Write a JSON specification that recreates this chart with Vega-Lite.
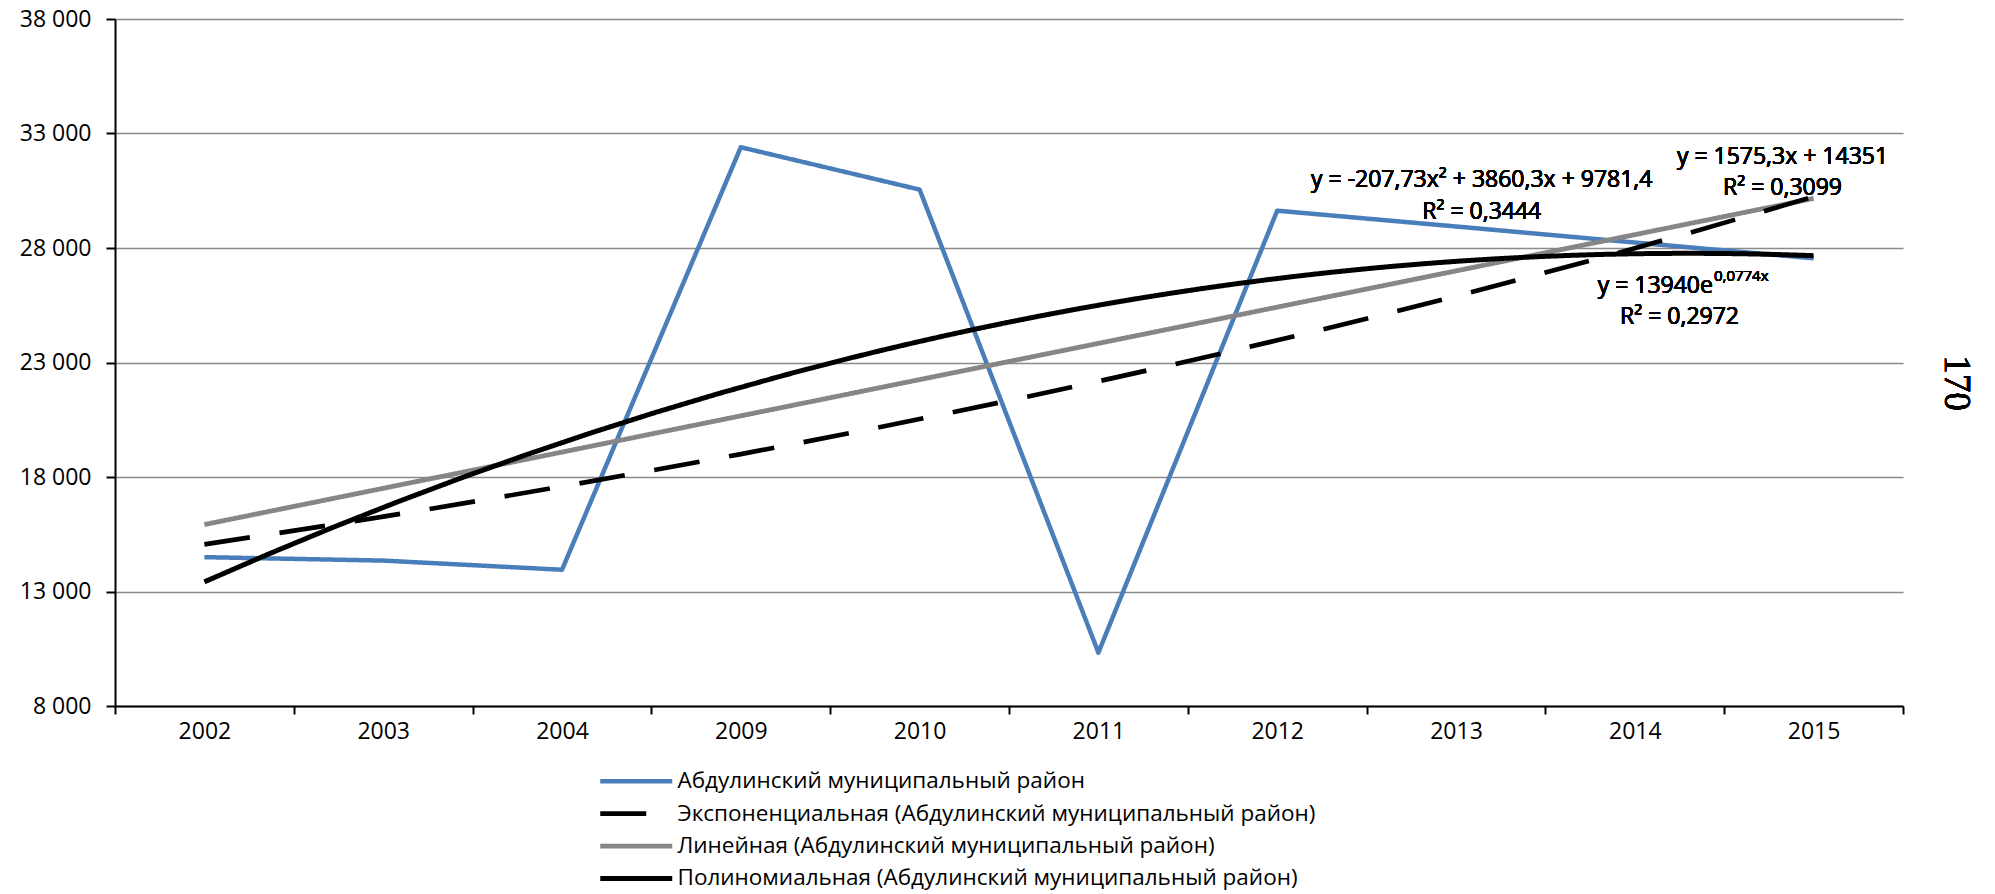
{
  "$schema": "https://vega.github.io/schema/vega-lite/v6.json",
  "width": 1788,
  "height": 687,
  "autosize": {"type": "none"},
  "padding": {"left": 115, "top": 19, "right": 92, "bottom": 188},
  "background": "white",
  "config": {
    "view": {"stroke": null}
  },
  "datasets": {
    "main": [
      {"year": "2002", "t": 1, "value": 14500},
      {"year": "2003", "t": 2, "value": 14350},
      {"year": "2004", "t": 3, "value": 13950},
      {"year": "2009", "t": 4, "value": 32400},
      {"year": "2010", "t": 5, "value": 30550},
      {"year": "2011", "t": 6, "value": 10330},
      {"year": "2012", "t": 7, "value": 29630},
      {"year": "2013", "t": 8, "value": 28940},
      {"year": "2014", "t": 9, "value": 28240},
      {"year": "2015", "t": 10, "value": 27550}
    ],
    "expTrend": [
      {"t": 1, "value": 15060},
      {"t": 2, "value": 16270},
      {"t": 3, "value": 17590},
      {"t": 4, "value": 19000},
      {"t": 5, "value": 20530},
      {"t": 6, "value": 22180},
      {"t": 7, "value": 23970},
      {"t": 8, "value": 25900},
      {"t": 9, "value": 27990},
      {"t": 10, "value": 30240}
    ]
  },
  "data": {"name": "main"},
  "layer": [
    {
      "mark": {"type": "line", "strokeJoin": "round"},
      "encoding": {
        "x": {
          "field": "t", "type": "quantitative",
          "scale": {"domain": [0.5, 10.5], "nice": false, "zero": false},
          "axis": {
            "values": [0.5, 1.5, 2.5, 3.5, 4.5, 5.5, 6.5, 7.5, 8.5, 9.5, 10.5],
            "labelExpr": "datum.value < 10 ? ['2002','2003','2004','2009','2010','2011','2012','2013','2014','2015'][floor(datum.value)] : ''",
            "labelOffset": 89.4,
            "labelFlush": false, "labelOverlap": false,
            "labelFont": "Open Sans", "labelFontSize": 23, "labelColor": "black", "labelPadding": 6,
            "tickSize": 8, "tickColor": "black", "tickWidth": 2,
            "domainColor": "black", "domainWidth": 2,
            "grid": false, "title": null
          }
        },
        "y": {
          "field": "value", "type": "quantitative",
          "scale": {"domain": [8000, 38000], "nice": false, "zero": false},
          "axis": {
            "values": [8000, 13000, 18000, 23000, 28000, 33000, 38000],
            "labelExpr": "replace(format(datum.value, ',d'), ',', ' ')",
            "labelFlush": false, "labelOverlap": false,
            "labelFont": "Open Sans", "labelFontSize": 23, "labelColor": "black", "labelPadding": 15,
            "tickSize": 9, "tickColor": "black", "tickWidth": 2,
            "domainColor": "black", "domainWidth": 2,
            "grid": true, "gridColor": "#8a8a8a", "gridWidth": 1.6,
            "title": null
          }
        },
        "color": {
          "datum": "Абдулинский муниципальный район", "type": "nominal",
          "scale": {
            "domain": [
              "Абдулинский муниципальный район",
              "Экспоненциальная (Абдулинский муниципальный район)",
              "Линейная (Абдулинский муниципальный район)",
              "Полиномиальная (Абдулинский муниципальный район)"
            ],
            "range": ["#4a7ebb", "#000000", "#868686", "#000000"]
          },
          "legend": {
            "orient": "none", "legendX": 479, "legendY": 751,
            "direction": "vertical", "title": null,
            "symbolType": "M-1,0H13.4", "symbolSize": 100,
            "labelFont": "Open Sans", "labelFontSize": 22.5, "labelColor": "black",
            "labelOffset": 61, "rowPadding": 9.4, "padding": 0, "labelLimit": 1000
          }
        },
        "strokeDash": {
          "datum": "Абдулинский муниципальный район", "type": "nominal",
          "scale": {
            "domain": [
              "Абдулинский муниципальный район",
              "Экспоненциальная (Абдулинский муниципальный район)",
              "Линейная (Абдулинский муниципальный район)",
              "Полиномиальная (Абдулинский муниципальный район)"
            ],
            "range": [[1, 0], [46, 30], [1, 0], [1, 0]]
          }
        },
        "strokeWidth": {
          "datum": "Абдулинский муниципальный район", "type": "nominal",
          "scale": {
            "domain": [
              "Абдулинский муниципальный район",
              "Экспоненциальная (Абдулинский муниципальный район)",
              "Линейная (Абдулинский муниципальный район)",
              "Полиномиальная (Абдулинский муниципальный район)"
            ],
            "range": [4.5, 5, 2.5, 5]
          }
        }
      }
    },
    {
      "transform": [{"regression": "value", "on": "t", "method": "linear"}],
      "mark": {"type": "line"},
      "encoding": {
        "x": {"field": "t", "type": "quantitative"},
        "y": {"field": "value", "type": "quantitative"},
        "color": {"datum": "Линейная (Абдулинский муниципальный район)", "type": "nominal"},
        "strokeDash": {"datum": "Линейная (Абдулинский муниципальный район)", "type": "nominal"},
        "strokeWidth": {"datum": "Линейная (Абдулинский муниципальный район)", "type": "nominal"}
      }
    },
    {
      "data": {"name": "expTrend"},
      "mark": {"type": "line", "interpolate": "monotone"},
      "encoding": {
        "x": {"field": "t", "type": "quantitative"},
        "y": {"field": "value", "type": "quantitative"},
        "color": {"datum": "Экспоненциальная (Абдулинский муниципальный район)", "type": "nominal"},
        "strokeDash": {"datum": "Экспоненциальная (Абдулинский муниципальный район)", "type": "nominal"},
        "strokeWidth": {"datum": "Экспоненциальная (Абдулинский муниципальный район)", "type": "nominal"}
      }
    },
    {
      "transform": [{"regression": "value", "on": "t", "method": "poly", "order": 2}],
      "mark": {"type": "line"},
      "encoding": {
        "x": {"field": "t", "type": "quantitative"},
        "y": {"field": "value", "type": "quantitative"},
        "color": {"datum": "Полиномиальная (Абдулинский муниципальный район)", "type": "nominal"},
        "strokeDash": {"datum": "Полиномиальная (Абдулинский муниципальный район)", "type": "nominal"},
        "strokeWidth": {"datum": "Полиномиальная (Абдулинский муниципальный район)", "type": "nominal"}
      }
    },
    {
      "mark": {"type": "text", "text": ["y = -207,73x² + 3860,3x + 9781,4", "R² = 0,3444"], "font": "Open Sans", "fontSize": 23, "color": "black", "lineHeight": 31.5, "align": "center", "baseline": "middle"},
      "encoding": {
        "x": {"datum": 8.144, "type": "quantitative"},
        "y": {"datum": 30969, "type": "quantitative"}
      }
    },
    {
      "mark": {"type": "text", "text": ["y = 1575,3x + 14351", "R² = 0,3099"], "font": "Open Sans", "fontSize": 23, "color": "black", "lineHeight": 31.5, "align": "center", "baseline": "middle"},
      "encoding": {
        "x": {"datum": 9.826, "type": "quantitative"},
        "y": {"datum": 31987, "type": "quantitative"}
      }
    },
    {
      "mark": {"type": "text", "text": "y = 13940e", "font": "Open Sans", "fontSize": 23, "color": "black", "align": "right", "baseline": "middle"},
      "encoding": {
        "x": {"datum": 9.437, "type": "quantitative"},
        "y": {"datum": 26341, "type": "quantitative"}
      }
    },
    {
      "mark": {"type": "text", "text": "0,0774x", "font": "Open Sans", "fontSize": 15, "color": "black", "align": "left", "baseline": "middle", "dx": 1},
      "encoding": {
        "x": {"datum": 9.437, "type": "quantitative"},
        "y": {"datum": 26777, "type": "quantitative"}
      }
    },
    {
      "mark": {"type": "text", "text": "R² = 0,2972", "font": "Open Sans", "fontSize": 23, "color": "black", "align": "center", "baseline": "middle"},
      "encoding": {
        "x": {"datum": 9.25, "type": "quantitative"},
        "y": {"datum": 25000, "type": "quantitative"}
      }
    },
    {
      "mark": {"type": "text", "text": "170", "font": "Liberation Serif, Times New Roman, serif", "fontSize": 37, "color": "black", "angle": 90, "align": "center", "baseline": "middle"},
      "encoding": {
        "x": {"datum": 10.797, "type": "quantitative"},
        "y": {"datum": 22105, "type": "quantitative"}
      }
    }
  ]
}
